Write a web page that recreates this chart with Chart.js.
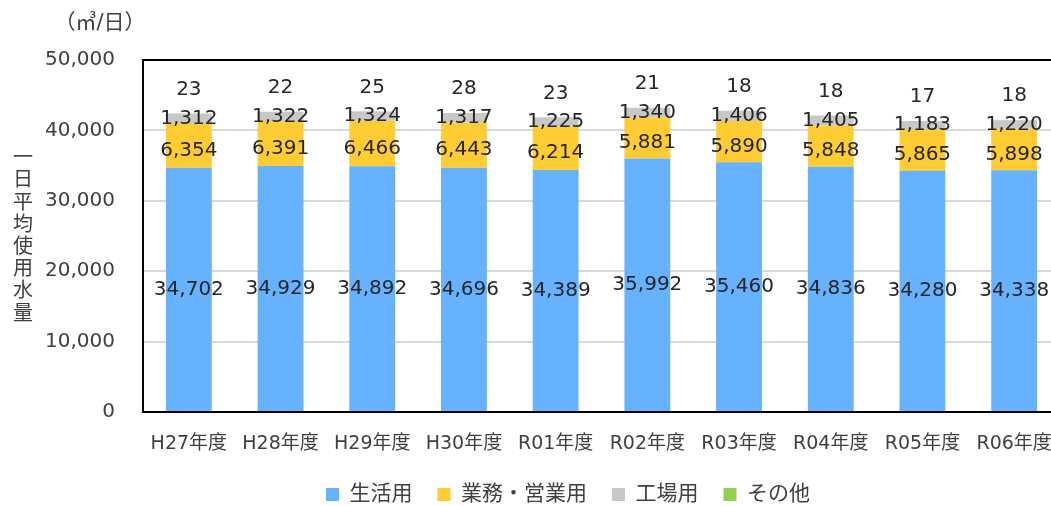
<!DOCTYPE html>
<html>
<head>
<meta charset="utf-8">
<style>
    body { margin: 0; overflow: hidden; background: #fff; }
    #wrap { position: absolute; left: 0; top: 0; width: 1136px; height: 515px; }
</style>
</head>
<body>
<div id="wrap">
    <canvas id="usage-chart"></canvas>
</div>

<script src="https://cdn.jsdelivr.net/npm/chart.js"></script>

<script>
    const categories = ['H27年度', 'H28年度', 'H29年度', 'H30年度', 'R01年度', 'R02年度', 'R03年度', 'R04年度', 'R05年度', 'R06年度'];
    const seriesNames = ['生活用', '業務・営業用', '工場用', 'その他'];
    const household = [34702, 34929, 34892, 34696, 34389, 35992, 35460, 34836, 34280, 34338];
    const business = [6354, 6391, 6466, 6443, 6214, 5881, 5890, 5848, 5865, 5898];
    const factory = [1312, 1322, 1324, 1317, 1225, 1340, 1406, 1405, 1183, 1220];
    const other = [23, 22, 25, 28, 23, 21, 18, 18, 17, 18];
    const yTicks = [0, 10000, 20000, 30000, 40000, 50000];

    const FONT = '"DejaVu Sans", "Noto Sans CJK JP", sans-serif';
    const TEXT = '#404040';

    // labels drawn on each segment (the last series sits above the bar)
    const segmentLabels = {
        id: 'segmentLabels',
        afterDatasetsDraw(chart) {
            const ctx = chart.ctx;
            ctx.save();
            ctx.font = '20px ' + FONT;
            ctx.fillStyle = '#262626';
            ctx.textAlign = 'center';
            ctx.textBaseline = 'middle';
            chart.data.datasets.forEach((ds, i) => {
                const meta = chart.getDatasetMeta(i);
                meta.data.forEach((bar, j) => {
                    const text = ds.data[j].toLocaleString('en-US');
                    let y;
                    if (i === 3) {
                        y = bar.y - 24;
                    } else {
                        y = (bar.y + bar.base) / 2 + (i === 1 ? 5 : 0);
                    }
                    ctx.fillText(text, bar.x, y);
                });
            });
            ctx.restore();
        }
    };

    // the legend sits a bit right of the padded box in the original
    const legendShift = {
        id: 'legendShift',
        afterLayout(chart) {
            chart.legend.left += 38;
            chart.legend.right += 38;
        }
    };

    // frame, unit and stacked y title
    const frameAndTitles = {
        id: 'frameAndTitles',
        afterDraw(chart) {
            const { ctx, chartArea } = chart;
            ctx.save();
            ctx.strokeStyle = '#000';
            ctx.lineWidth = 2;
            ctx.strokeRect(chartArea.left, chartArea.top, chartArea.right - chartArea.left, chartArea.bottom - chartArea.top);

            ctx.fillStyle = TEXT;
            ctx.font = '21px ' + FONT;
            ctx.textAlign = 'center';
            ctx.textBaseline = 'middle';
            ctx.fillText('（㎥/日）', 100, 24);

            ctx.font = '20px ' + FONT;
            const title = '一日平均使用水量';
            for (let k = 0; k < title.length; k++) {
                ctx.fillText(title[k], 23, 159 + k * 22.2);
            }
            ctx.restore();
        }
    };

    const colors = ['#66B2FF', '#FFCC33', '#C8C8C8', '#92D050'];
    const values = [household, business, factory, other];

    new Chart(document.getElementById('usage-chart'), {
        type: 'bar',
        data: {
            labels: categories,
            datasets: seriesNames.map((name, i) => ({
                label: name,
                data: values[i],
                backgroundColor: colors[i],
                borderWidth: 0,
                categoryPercentage: 1,
                barPercentage: 0.5
            }))
        },
        options: {
            responsive: true,
            maintainAspectRatio: false,
            animation: false,
            layout: { padding: { top: 60, right: 76, left: 0, bottom: 0 } },
            plugins: {
                tooltip: { enabled: false },
                legend: {
                    position: 'bottom',
                    labels: {
                        font: { size: 21, family: FONT },
                        color: TEXT,
                        boxWidth: 13,
                        boxHeight: 13,
                        padding: 25
                    }
                }
            },
            scales: {
                x: {
                    stacked: true,
                    afterFit(scale) { scale.height = 47; },
                    grid: { display: false },
                    border: { display: false },
                    ticks: {
                        font: { size: 19, family: FONT },
                        color: TEXT,
                        padding: 13,
                        maxRotation: 0
                    }
                },
                y: {
                    stacked: true,
                    min: 0,
                    max: 50000,
                    afterFit(scale) { scale.width = 143; },
                    afterBuildTicks(scale) { scale.ticks = yTicks.map(v => ({ value: v })); },
                    grid: { color: '#D9D9D9', lineWidth: 2, drawTicks: false },
                    border: { display: false },
                    ticks: {
                        font: { size: 20, family: FONT },
                        color: TEXT,
                        padding: 28,
                        callback: v => v.toLocaleString('en-US')
                    }
                }
            }
        },
        plugins: [segmentLabels, legendShift, frameAndTitles]
    });
</script>
</body>
</html>
